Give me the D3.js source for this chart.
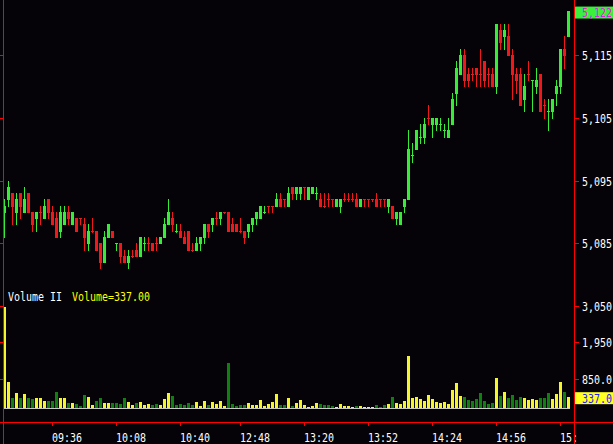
<!DOCTYPE html>
<html><head><meta charset="utf-8">
<script src="https://cdn.jsdelivr.net/npm/d3@7"></script>
<style>
html,body{margin:0;padding:0;background:#050308;overflow:hidden}
svg{display:block}
text{font-family:"DejaVu Sans Mono","Liberation Mono",monospace;font-size:13px}
</style></head><body>
<svg id="c" width="613" height="444"></svg>
<script>
// ---------- data ----------
const opens = [5090,5092,5093,5090,5093,5090,5093,5090,5089,5090,
 5089,5092,5090,5089,5087,5088,5090,5088,5089,5089,
 5088,5085,5087,5087,5085,5082,5086,5087,5084.8,5085,
 5083,5082,5083,5084,5083,5084.8,5085,5085,5085,5085,
 5086,5088,5089,5086.8,5087,5086,5087,5084,5084,5085,
 5086,5088,5088,5089,5089,5090,5090,5088,5088,5087,
 5087,5087,5088,5089,5089,5089.8,5091,5091,5091,5092,
 5092,5091,5094,5093,5093,5094,5092,5093,5092.8,5092,
 5091,5092,5092,5091,5091,5092,5092,5092,5092,5091,
 5092,5092,5092,5092,5092,5092,5091,5091,5089,5088,
 5091,5092,5098.8,5100,5101.8,5102,5105,5104,5104,5103.8,
 5102.8,5102,5104,5109,5112,5115,5112,5112,5113,5112,
 5114,5112,5112,5110,5119,5118,5118,5115,5112,5112,
 5108,5112,5110.8,5110,5112,5107,5105.8,5106,5109,5110,
 5116,5118];
const highs = [5092,5095,5093,5093,5093,5094,5093,5090,5090,5091,
 5092,5092,5091,5090,5091,5091,5091,5090,5089,5089,
 5089,5088,5089,5087,5085,5087,5088,5087,5085,5085,
 5084,5084,5084,5085,5086,5086,5086,5085,5086,5086,
 5089,5092,5090,5088,5088,5087,5087,5085,5086,5086,
 5088,5088,5089,5090,5090,5090,5090,5089,5088,5089,
 5087,5088,5089,5090,5091,5091,5091,5091,5093,5093,
 5092,5094,5094,5094,5094,5094,5094,5094,5094,5093,
 5093,5093,5092,5092,5092,5093,5093,5093,5093,5092,
 5092,5092,5092,5093,5092,5092,5092,5091,5090,5090,
 5092,5103,5101,5103,5104,5105,5107,5105,5105,5105,
 5104,5105,5109,5114,5116,5116,5113,5113,5113,5116,
 5114,5113,5113,5120,5120,5120,5120,5116,5113,5113,
 5112,5114,5111,5113,5112,5108,5108,5108,5111,5116,
 5118,5122];
const lows = [5086,5091,5088,5088,5089,5090,5090,5087,5087,5088,
 5089,5089,5088,5086,5086,5088,5088,5088,5087,5088,
 5084,5084,5086.8,5084,5081,5082,5086,5086,5084,5082,
 5082,5081,5082.8,5083,5083,5084,5084,5084,5084,5085,
 5086,5088,5087,5086.8,5086,5085,5084,5083.8,5084,5084,
 5085,5086,5087,5088,5088,5089.8,5087,5087,5087,5086.8,
 5085,5086,5087,5088,5089,5089.8,5090,5090,5091,5091,
 5091,5091,5092,5092,5092,5092,5092,5093,5092,5091,
 5090.8,5091,5091,5091,5090,5091.8,5091.8,5091.8,5091,5091,
 5091,5091,5091.8,5091,5091,5091,5090,5089,5088,5088,
 5090,5092,5098,5100,5101,5101,5104,5102,5103,5103,
 5102,5102,5104,5107,5112,5110,5110,5111,5110,5110,
 5110,5110,5110,5109,5116,5116,5115,5108,5109,5107,
 5106,5111,5106,5109,5106,5105,5103,5105,5107,5109,
 5113,5118];
const closes = [5091,5094,5091,5092,5091,5092,5090,5088,5090,5089.8,
 5091,5090,5088,5086,5090,5090,5089,5090,5087,5088.8,
 5086,5087,5086.8,5084,5082,5086,5088,5086,5085,5083,
 5082,5083,5082.8,5083,5086,5085,5084.8,5084,5084.8,5086,
 5088,5090,5088,5087,5086,5085,5084,5083.8,5085,5086,
 5088,5087,5089,5088.8,5090,5089.8,5087,5087,5087,5086.8,
 5086,5088,5089,5090,5091,5090,5090.8,5090.8,5092,5091,
 5091.8,5093,5093,5094,5094,5093.8,5094,5094,5093,5091,
 5090.8,5091.8,5091.8,5092,5092,5091.8,5091.8,5091.8,5091,5092,
 5091.8,5091.8,5091.8,5091,5091.8,5091.8,5092,5089,5090,5090,
 5092,5100,5099,5103,5102,5104,5104.8,5105,5105,5104,
 5103,5103,5108,5113,5115,5111,5111,5111.8,5112,5111.8,
 5111,5111.8,5110,5120,5117,5119,5115,5112,5111,5107,
 5110,5111.8,5111,5111,5106,5106.8,5106,5108,5110,5116,
 5115,5122];
const volumes = [3000,770,294,443,294,413,294,265,294,294,
 205,205,205,473,294,294,146,146,116,56,
 384,324,86,205,294,146,146,146,146,116,
 294,175,86,146,175,86,116,86,116,86,
 265,443,354,86,116,86,146,86,175,56,
 205,86,175,116,205,56,1335,116,56,86,
 86,146,86,86,235,56,116,175,413,86,
 86,294,56,146,235,86,27,56,146,116,
 86,86,56,27,116,56,56,27,56,56,
 27,27,27,86,27,86,116,324,146,116,
 205,1543,294,324,265,205,384,265,175,146,
 175,116,535,743,354,324,235,205,265,443,
 205,116,146,889,354,473,294,384,235,324,
 294,235,265,235,294,294,443,265,413,770,
 473,337];
// volume side: U = up-tick volume, D = down-tick volume
const volumeSide = ("UUDUDUDDUU" + "UDDDUUDUDD" + "DUUDDUUDDD" + "DUUDUUUDDU" +
 "UUDDDDDDUU" + "UDUUUUDDDD" + "DUUUUUUUUD" + "DUDUUUUUUD" +
 "DDDUUUUUDU" + "UUUDDDUDUU" + "UUUUUUUUUU" + "UUUUUDDDDD" +
 "DDDUDUDDDD" + "UUUUDDDUUU" + "DU").split("");
const timeLabels = ["09:36","10:08","10:40","12:48","13:20","13:52","14:24","14:56","15:"];
const timeIndex  = [12, 28, 44, 59, 75, 91, 107, 123, 139];
const priceTicks = [5085, 5095, 5105, 5115];
const volumeTicks = [850, 1950, 3050];

// ---------- style ----------
const BG = "#050308", UP = "#36ec36", DOWN = "#f01818",
      VUP = "#f5f52c", VDOWN = "#0f7f0f", AXIS = "#ff0000", BASE = "#c8c8c8";
const SX = 0.767; // horizontal squeeze to mimic the narrow bitmap font (6px cells)

const svg = d3.select("#c");
const W = 613, H = 444;
svg.append("rect").attr("width", W).attr("height", H).attr("fill", BG);

const n = closes.length;
const idx = d3.range(n);
const x = d3.scaleLinear().domain([0, n - 1]).range([4, 4 + 4 * (n - 1)]);
const y = d3.scaleLinear().domain([5085, 5115]).range([243.3, 55]);
const yv = d3.scaleLinear().domain([0, 3050]).range([408, 305.5]);
const yR = y.copy().rangeRound(y.range());
const yvR = yv.copy().rangeRound(yv.range());

const isUp = i => closes[i] >= opens[i];
const py = v => Math.round(y(v));

// candles
const gC = svg.append("g").attr("shape-rendering", "crispEdges");
gC.selectAll("rect.w").data(idx).join("rect").attr("class", "w")
  .attr("x", i => x(i)).attr("width", 1)
  .attr("y", i => py(highs[i]))
  .attr("height", i => py(lows[i]) - py(highs[i]) + 1)
  .attr("fill", i => isUp(i) ? UP : DOWN);
gC.selectAll("rect.b").data(idx).join("rect").attr("class", "b")
  .attr("x", i => x(i) - 1).attr("width", 3)
  .attr("y", i => py(Math.max(opens[i], closes[i])))
  .attr("height", i => Math.abs(opens[i] - closes[i]) < 0.5 ? 1 :
        py(Math.min(opens[i], closes[i])) - py(Math.max(opens[i], closes[i])) + 1)
  .attr("fill", i => isUp(i) ? UP : DOWN);

// volume
const gV = svg.append("g").attr("shape-rendering", "crispEdges");
gV.selectAll("rect").data(idx).join("rect")
  .attr("x", i => x(i) - 1).attr("width", 3)
  .attr("y", i => Math.round(yv(volumes[i])))
  .attr("height", i => yv(0) - Math.round(yv(volumes[i])))
  .attr("fill", i => volumeSide[i] === "U" ? VUP : VDOWN);
gV.append("line").attr("x1", x(0) - 1).attr("x2", x(n - 1) + 2)
  .attr("y1", yv(0) + 0.5).attr("y2", yv(0) + 0.5).attr("stroke", BASE);

// text helper: place at (tx,ty) and squeeze horizontally
function place(sel, tx, ty, fill) {
  sel.attr("x", null).attr("y", null).attr("dy", null)
    .attr("transform", `translate(${tx},${ty}) scale(${SX},1)`)
    .attr("text-anchor", "start")
    .attr("fill", fill).attr("font-family", '"DejaVu Sans Mono",monospace').attr("font-size", 13);
}
const fmtVol = v => v < 1000 ? d3.format(".1f")(v) : d3.format(",")(v);

// axes
const gR = svg.append("g").attr("transform", "translate(574,0)")
  .call(d3.axisRight(yR).tickValues(priceTicks).tickSize(5).tickFormat(d3.format(",")));
const gRV = svg.append("g").attr("transform", "translate(574,0)")
  .call(d3.axisRight(yvR).tickValues(volumeTicks).tickSize(5).tickFormat(fmtVol));
[gR, gRV].forEach(g => {
  g.select(".domain").remove();
  g.selectAll("line").attr("stroke", AXIS);
  g.selectAll("text").call(place, 8, 4.5, "#ffffff");
});
const gL = svg.append("g").attr("transform", "translate(3,0)")
  .call(d3.axisLeft(yR).tickValues(priceTicks).tickSize(3).tickFormat(""));
const gLV = svg.append("g").attr("transform", "translate(3,0)")
  .call(d3.axisLeft(yvR).tickValues(volumeTicks).tickSize(3).tickFormat(""));
[gL, gLV].forEach(g => { g.select(".domain").remove(); g.selectAll("line").attr("stroke", AXIS); g.selectAll("text").remove(); });

const gB = svg.append("g").attr("transform", "translate(0,422)")
  .call(d3.axisBottom(x).tickValues(timeIndex).tickSize(4).tickFormat((d, k) => timeLabels[k]));
gB.select(".domain").remove();
gB.selectAll("line").attr("stroke", AXIS);
gB.selectAll("text").call(place, -0.5, 20, "#ffffff");

// frame lines
const gF = svg.append("g").attr("shape-rendering", "crispEdges").attr("stroke", AXIS);
gF.append("line").attr("x1", 3.5).attr("x2", 3.5).attr("y1", 0).attr("y2", H);
gF.append("line").attr("x1", 574.5).attr("x2", 574.5).attr("y1", 0).attr("y2", H);
gF.append("line").attr("x1", 0).attr("x2", W).attr("y1", 422.5).attr("y2", 422.5);

// last price / last volume markers
const lastC = closes[n - 1], lastV = volumes[n - 1];
svg.append("rect").attr("x", 575).attr("y", y(lastC) - 4.5).attr("width", 38).attr("height", 12).attr("fill", "#3af03a");
svg.append("text").text(d3.format(",")(lastC)).call(place, 582, y(lastC) + 6, "#e020e0");
svg.append("rect").attr("x", 575).attr("y", yv(lastV) - 4.5).attr("width", 38).attr("height", 12).attr("fill", "#ffff20");
svg.append("text").text(fmtVol(lastV)).call(place, 582, yv(lastV) + 6, "#2020ff");

// legend
svg.append("text").text("Volume II").call(place, 8, 301, "#ffffff");
svg.append("text").text("Volume=" + d3.format(".2f")(lastV)).call(place, 72, 301, "#ffff00");
</script>
</body></html>
